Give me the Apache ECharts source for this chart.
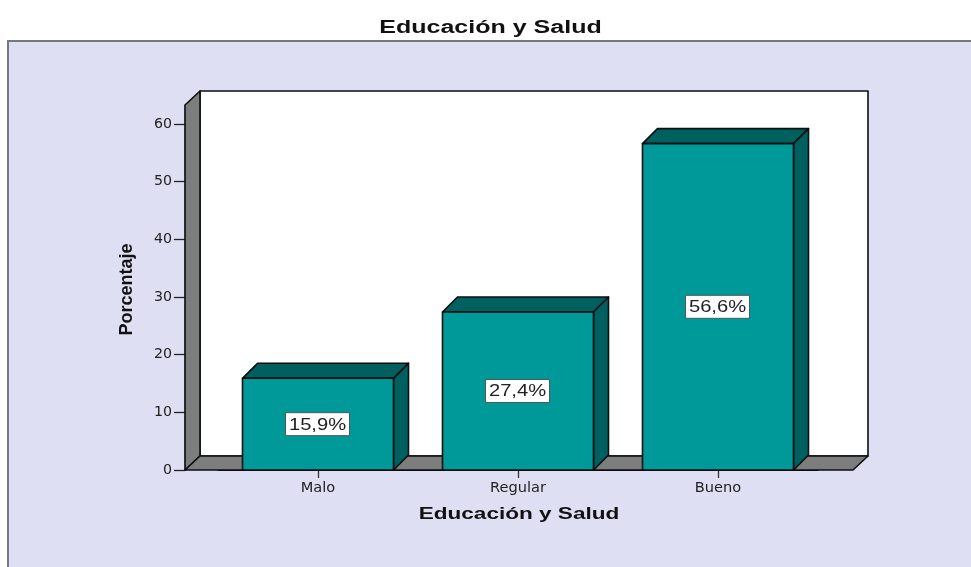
<!DOCTYPE html>
<html>
<head>
<meta charset="utf-8">
<style>html,body{margin:0;padding:0;background:#fff}#c{width:971px;height:567px}</style>
<script src="https://cdn.jsdelivr.net/npm/echarts@6/dist/echarts.min.js"></script>
</head>
<body>
<div id="c"></div>
<script>
const titleText = 'Educación y Salud';
const xAxisTitle = 'Educación y Salud';
const yAxisTitle = 'Porcentaje';
const categories = ['Malo', 'Regular', 'Bueno'];
const percentages = [15.9, 27.4, 56.6];
const yTicks = [0, 10, 20, 30, 40, 50, 60];

const DX = 15, DY = 14;
const C = {panel:'#DFDFF3', panelEdge:'#77777f', wall:'#7D7D7D', front:'#009999', dark:'#005F5F', ink:'#222222', edge:'#0a0f0f'};
const poly = (points, fill, z2) => ({type:'polygon', z2: z2||0, shape:{points},
  style:{fill, stroke:C.edge, lineWidth:1.6, lineJoin:'round'}});

function renderWalls(params, api) {
  const cs = params.coordSys;
  const yBase = api.coord([0, 0])[1], yTop = cs.y;
  const xL = cs.x - 33, xR = cs.x + cs.width + 35;
  return {type:'group', children:[
    poly([[xL+DX,yTop-DY],[xR+DX,yTop-DY],[xR+DX,yBase-DY],[xL+DX,yBase-DY]], '#ffffff'),
    poly([[xL,yTop],[xL+DX,yTop-DY],[xL+DX,yBase-DY],[xL,yBase]], C.wall),
    poly([[xL,yBase],[xL+DX,yBase-DY],[xR+DX,yBase-DY],[xR,yBase]], C.wall)
  ]};
}

function renderBar(params, api) {
  const cat = api.value(0), val = api.value(1);
  const [cx, yt] = api.coord([cat, val]);
  const y0 = api.coord([cat, 0])[1];
  const half = api.size([1, 0])[0] * 0.375;
  const x0 = cx - half - 0.5, x1 = cx + half + 0.5;
  const ym = (yt + y0) / 2;
  const text = val.toFixed(1).replace('.', ',') + '%';
  return {type:'group', children:[
    poly([[x0,yt],[x0+DX,yt-DY-1],[x1+DX,yt-DY-1],[x1,yt]], C.dark),
    poly([[x1,yt],[x1+DX,yt-DY-1],[x1+DX,y0-DY-1],[x1,y0]], C.dark),
    poly([[x0,yt],[x1,yt],[x1,y0],[x0,y0]], C.front),
    {type:'rect', shape:{x:cx-32.5, y:ym-11.5, width:64, height:23},
      style:{fill:'#fff', stroke:'#4a5a5a', lineWidth:1}},
    {type:'text', x:cx-0.5, y:ym+1, scaleX:1.26, z2:5,
      style:{text, font:'16px "Liberation Sans"', align:'center', verticalAlign:'middle', fill:C.ink}}
  ]};
}

const chart = echarts.init(document.getElementById('c'), null, {renderer:'canvas'});
chart.setOption({
  animation:false,
  backgroundColor:'#ffffff',
  grid:{left:218, top:105, width:600, height:365, containLabel:false},
  xAxis:{type:'category', data:categories, boundaryGap:true,
    axisLine:{show:true, lineStyle:{color:C.edge, width:1}},
    axisTick:{show:true, alignWithLabel:true, length:8, lineStyle:{color:'#333', width:1.3}},
    axisLabel:{show:true, color:C.ink, fontFamily:'DejaVu Sans', fontSize:14.6, margin:11}
  },
  yAxis:{type:'value', min:0, max:63.3, offset:33,
    name:yAxisTitle, nameLocation:'middle', nameGap:49, nameRotate:90,
    nameTextStyle:{color:'#111', fontFamily:'Liberation Sans', fontWeight:'bold', fontSize:18, padding:[0,4,0,0]},
    splitLine:{show:false},
    axisLine:{show:true, lineStyle:{color:C.edge, width:1.4}},
    axisTick:{show:true, length:11, customValues:yTicks, lineStyle:{color:'#222', width:1.3}},
    axisLabel:{show:true, color:C.ink, fontFamily:'DejaVu Sans', fontSize:14.2, margin:13, customValues:yTicks}
  },
  graphic:{elements:[
    {type:'rect', z:-10, silent:true, shape:{x:8, y:41, width:1000, height:600},
      style:{fill:C.panel, stroke:C.panelEdge, lineWidth:2}},
    {type:'text', z:10, x:490.5, y:28, scaleX:1.39,
      style:{text:titleText, font:'bold 18px "Liberation Sans"', align:'center', verticalAlign:'middle', fill:'#111'}},
    {type:'text', z:10, x:519, y:515, scaleX:1.41,
      style:{text:xAxisTitle, font:'bold 16px "Liberation Sans"', align:'center', verticalAlign:'middle', fill:'#111'}}
  ]},
  series:[
    {type:'custom', name:'walls', silent:true, clip:false, z:1, renderItem:renderWalls, data:[[0,0]]},
    {type:'custom', name:'Porcentaje', silent:true, clip:false, z:3, renderItem:renderBar,
      encode:{x:0, y:1}, data:percentages.map((v,i)=>[i,v])}
  ]
});
</script>
</body>
</html>
